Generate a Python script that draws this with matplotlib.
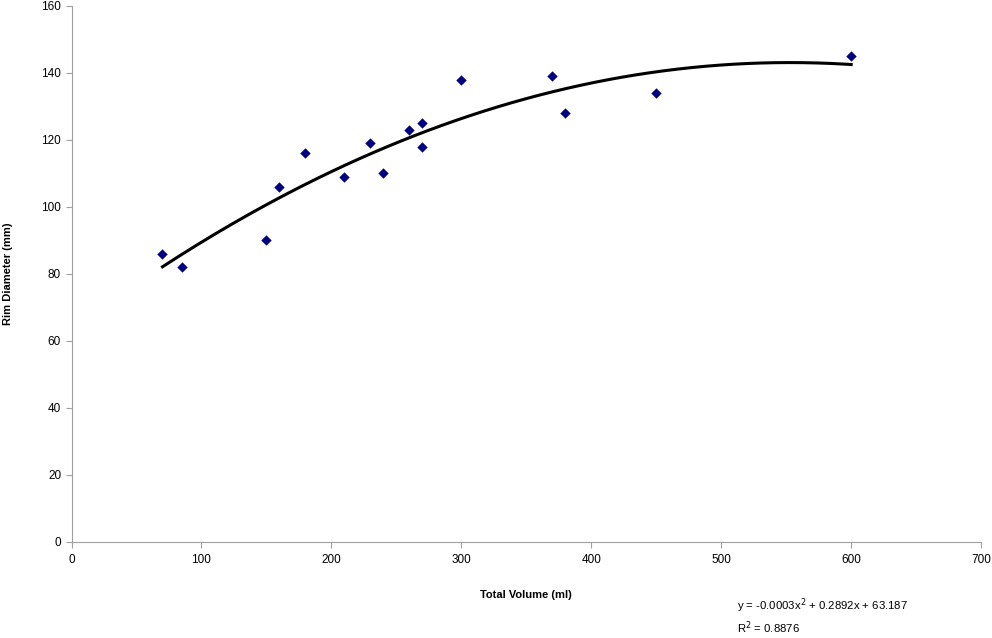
import matplotlib.pyplot as plt
import numpy as np

plt.rcParams['font.family'] = ['Liberation Sans', 'DejaVu Sans']

# datos
volumen = [70, 85, 150, 160, 180, 210, 230, 240, 260, 270, 270, 300, 370, 380, 450, 600]
diametro = [86, 82, 90, 106, 116, 109, 119, 110, 123, 125, 118, 138, 139, 128, 134, 145]

ecuacion = 'y = -0.0003x$^{2}$ + 0.2892x + 63.187'
r2_texto = 'R$^{2}$ = 0.8876'

# ajuste polinomico de orden 2
coef = np.polyfit(volumen, diametro, 2)
x_fit = np.linspace(min(volumen), max(volumen), 200)
y_fit = np.polyval(coef, x_fit)

fig = plt.figure(figsize=(9.92, 6.38), dpi=100)
ax = fig.add_axes([0.0721, 0.1505, 0.9169, 0.8401])

ax.plot(x_fit, y_fit, color='black', linewidth=2.2, zorder=2)
ax.scatter(volumen, diametro, marker='D', s=28, color='#000080', zorder=3, linewidths=0)

ax.set_xlim(0, 700)
ax.set_ylim(0, 160)
ax.set_xticks(range(0, 701, 100))
ax.set_yticks(range(0, 161, 20))

for lado in ['top', 'right']:
    ax.spines[lado].set_visible(False)
for lado in ['left', 'bottom']:
    ax.spines[lado].set_color('#a0a0a0')
ax.tick_params(colors='#a0a0a0', labelcolor='black', labelsize=8.5, length=4, direction='out')
ax.tick_params(axis='x', pad=5)

ax.set_xlabel('Total Volume (ml)', fontsize=8, fontweight='bold', labelpad=17)
ax.set_ylabel('Rim Diameter (mm)', fontsize=8, fontweight='bold', labelpad=20)

fig.text(737 / 992, 1 - 606 / 638, ecuacion, fontsize=8.2, va='center')
fig.text(737 / 992, 1 - 628 / 638, r2_texto, fontsize=8.2, va='center')

plt.savefig('out.png', dpi=100)
